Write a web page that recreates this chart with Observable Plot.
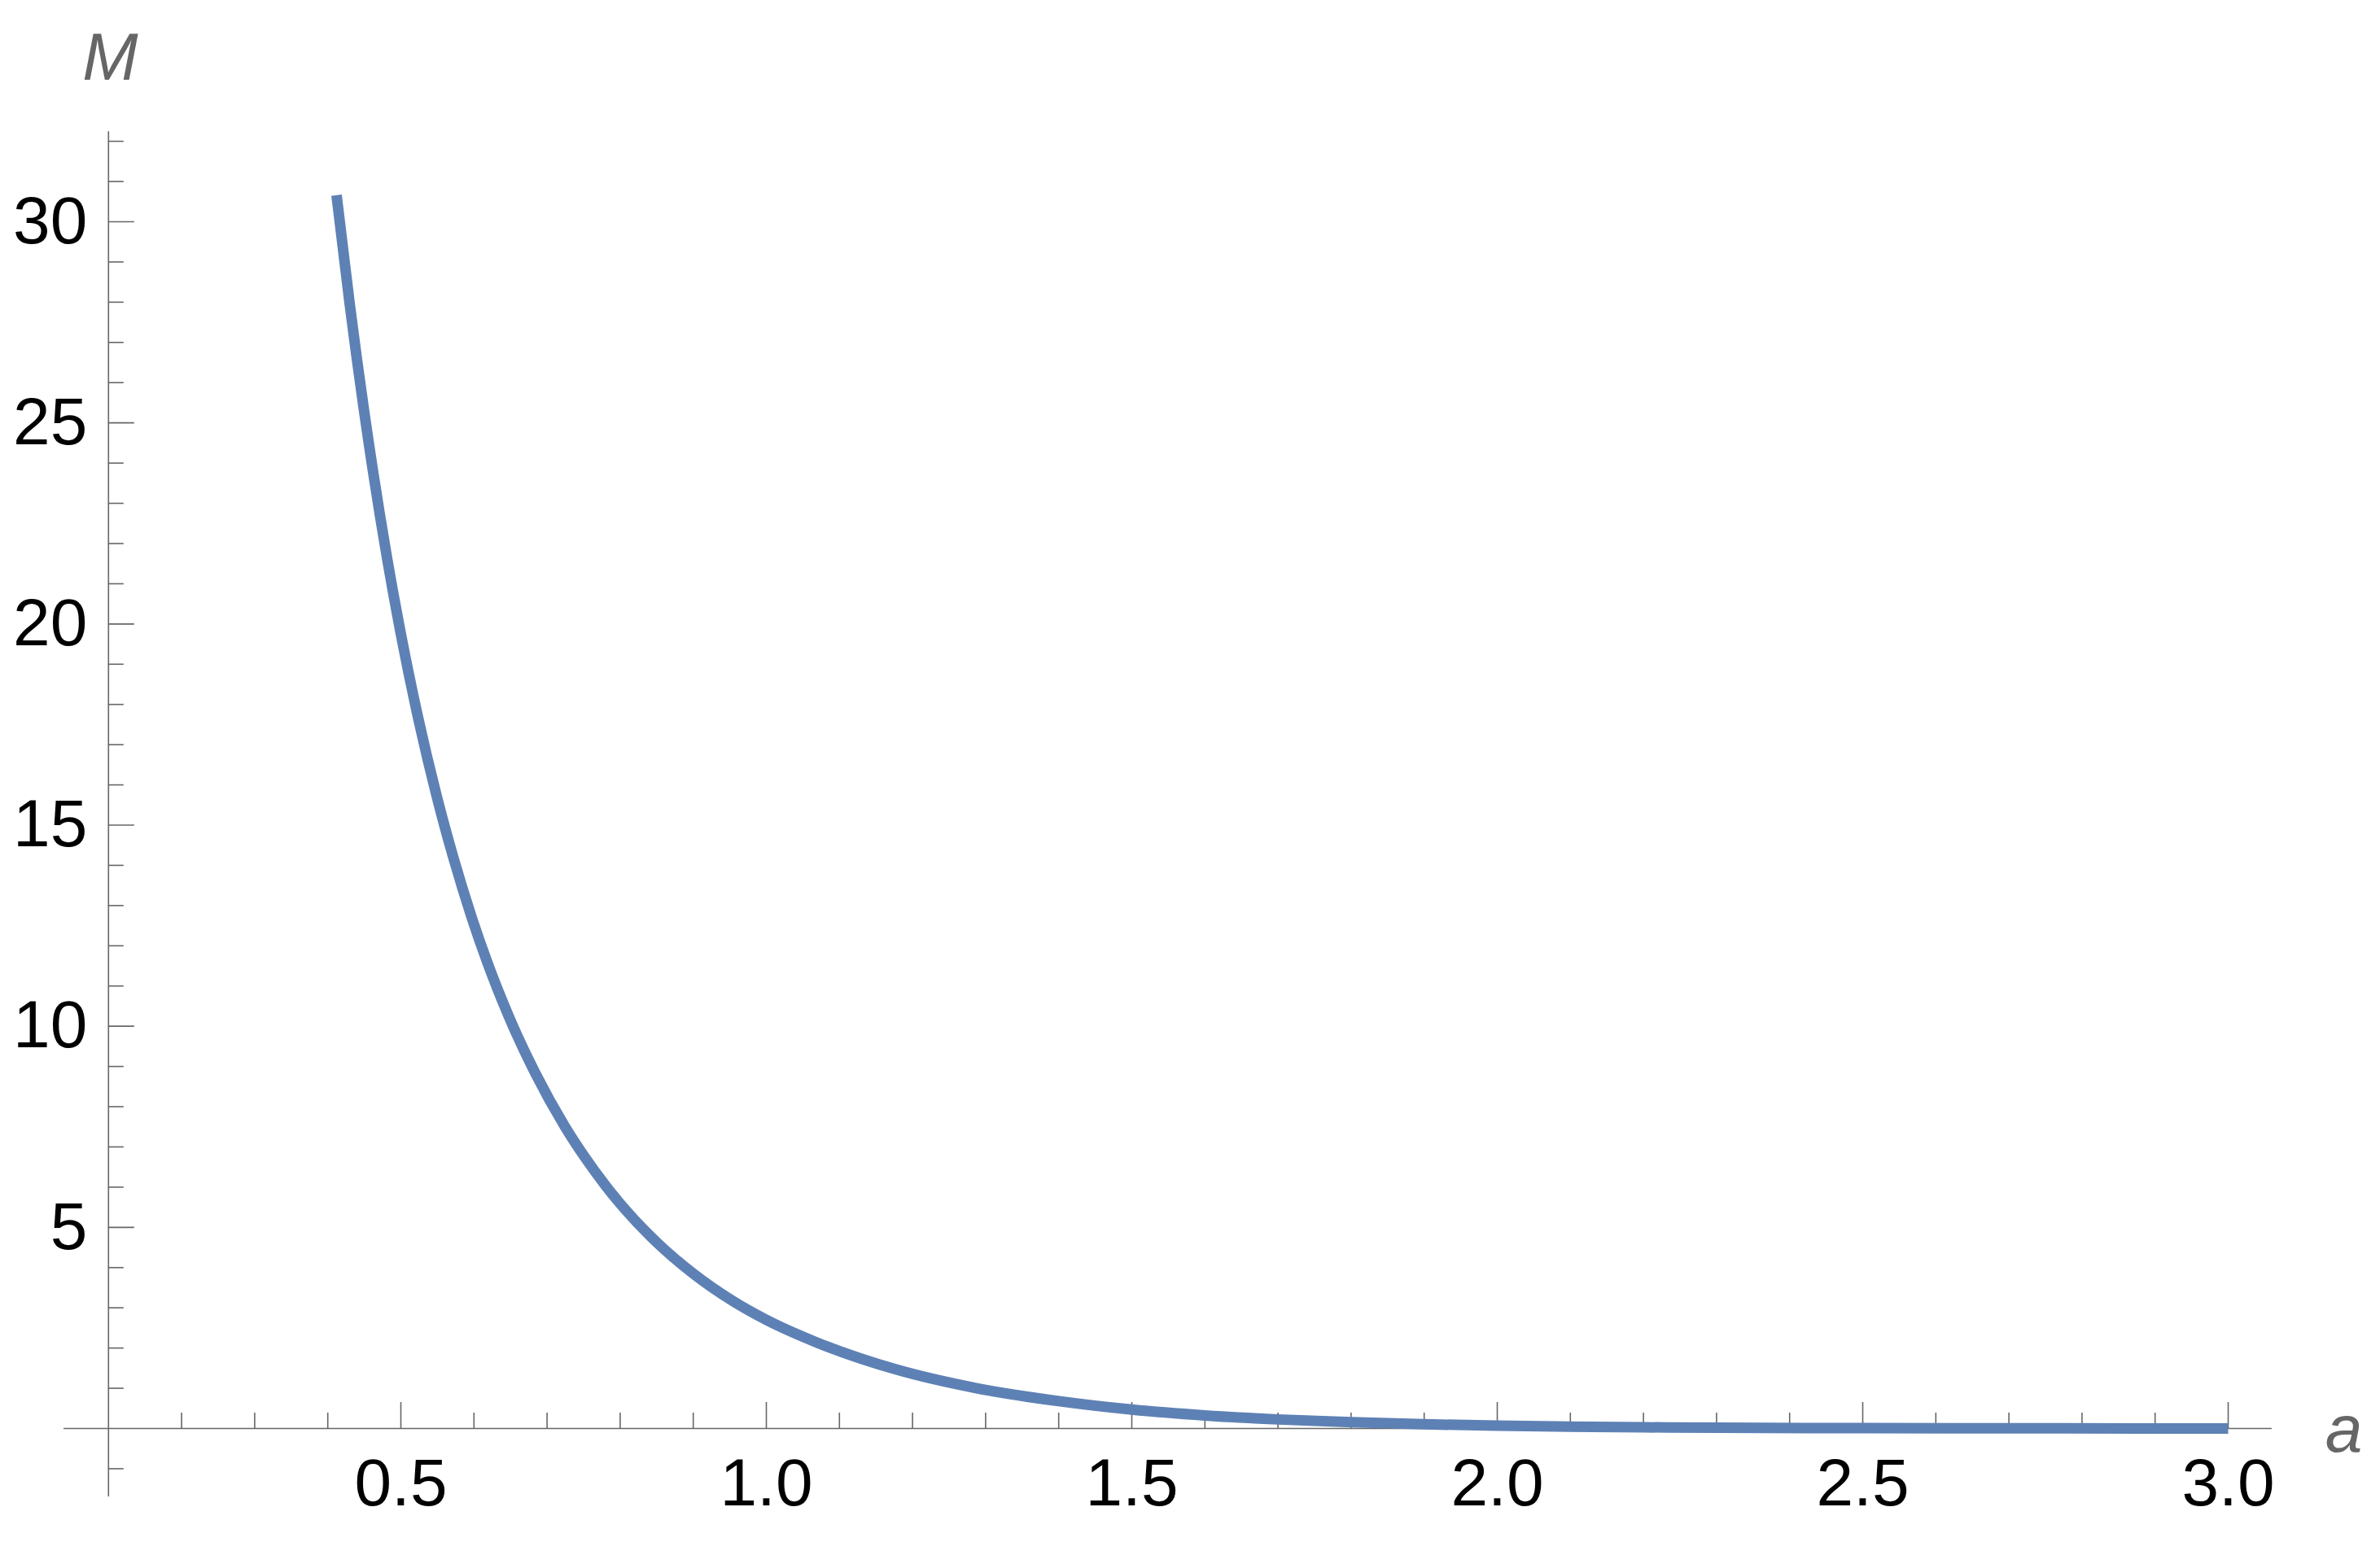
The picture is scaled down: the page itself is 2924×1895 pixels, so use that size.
<!DOCTYPE html>
<html>
<head>
<meta charset="utf-8">
<script src="https://cdn.jsdelivr.net/npm/d3@7"></script>
<script src="https://cdn.jsdelivr.net/npm/@observablehq/plot@0.6"></script>
<style>
  html, body { margin: 0; padding: 0; background: #fff; }
  #chart svg { display: block; }
</style>
</head>
<body>
<div id="chart"></div>
<script>
// ---- data ----
const aValues = [0.412, 0.430, 0.461, 0.481, 0.500, 0.522, 0.549, 0.572, 0.597, 0.618, 0.647, 0.684, 0.724, 0.750, 0.780, 0.800, 0.843, 0.900, 0.954, 1.000, 1.066, 1.177, 1.288, 1.400, 1.500, 1.600, 1.700, 1.800, 1.900, 2.000, 2.100, 2.200, 2.300, 2.500, 2.750, 3.000];
const mValues = [30.66, 27.95, 23.90, 21.65, 19.75, 17.80, 15.72, 14.18, 12.70, 11.60, 10.27, 8.83, 7.52, 6.79, 6.04, 5.59, 4.75, 3.85, 3.17, 2.70, 2.16, 1.47, 1.00, 0.68, 0.47, 0.325, 0.225, 0.157, 0.105, 0.071, 0.048, 0.030, 0.018, 0.008, 0.003, 0.001];

const xMajorTicks = [0.5, 1.0, 1.5, 2.0, 2.5, 3.0];
const xTickLabels = ["0.5", "1.0", "1.5", "2.0", "2.5", "3.0"];
const xMinorTicks = [0.2, 0.3, 0.4, 0.6, 0.7, 0.8, 0.9, 1.1, 1.2, 1.3, 1.4, 1.6, 1.7, 1.8, 1.9, 2.1, 2.2, 2.3, 2.4, 2.6, 2.7, 2.8, 2.9];
const yMajorTicks = [5, 10, 15, 20, 25, 30];
const yTickLabels = ["5", "10", "15", "20", "25", "30"];
const yMinorTicks = [-1, 1, 2, 3, 4, 6, 7, 8, 9, 11, 12, 13, 14, 16, 17, 18, 19, 21, 22, 23, 24, 26, 27, 28, 29, 31, 32];

const xAxisLabel = "a";
const yAxisLabel = "M";

// ---- layout ----
const W = 2924, H = 1895;
const xDomain = [0, 3], xRange = [43, 2737];
const yDomain = [0, 30], yRange = [1755, 272];
const axisCrossX = 0.1;           // where the vertical axis sits
const xAxisExtent = [0.039, 3.06];
const yAxisExtent = [-1.7, 32.24];
const pxPerX = (xRange[1] - xRange[0]) / (xDomain[1] - xDomain[0]);
const pxPerY = (yRange[0] - yRange[1]) / (yDomain[1] - yDomain[0]);
const majorLen = 32, minorLen = 19;

const axisColor = "#666666";
const curveColor = "#5E81B5";
const font = "'Liberation Sans', Arial, sans-serif";
const fs = 82;

const data = aValues.map((a, i) => ({a, M: mValues[i]}));
const xLab = xMajorTicks.map((v, i) => ({v, t: xTickLabels[i]}));
const yLab = yMajorTicks.map((v, i) => ({v, t: yTickLabels[i]}));

const chart = Plot.plot({
  width: W,
  height: H,
  style: {fontFamily: font, background: "#fff", overflow: "visible"},
  x: {domain: xDomain, range: xRange, axis: null},
  y: {domain: yDomain, range: yRange, axis: null},
  marks: [
    // axes lines
    Plot.ruleY([0], {x1: xAxisExtent[0], x2: xAxisExtent[1], stroke: axisColor, strokeWidth: 1.6}),
    Plot.ruleX([axisCrossX], {y1: yAxisExtent[0], y2: yAxisExtent[1], stroke: axisColor, strokeWidth: 1.6}),
    // x ticks
    Plot.ruleX(xMajorTicks, {x: d => d, y1: 0, y2: majorLen / pxPerY, stroke: axisColor, strokeWidth: 1.6}),
    Plot.ruleX(xMinorTicks, {x: d => d, y1: 0, y2: minorLen / pxPerY, stroke: axisColor, strokeWidth: 1.6}),
    // y ticks
    Plot.ruleY(yMajorTicks, {y: d => d, x1: axisCrossX, x2: axisCrossX + majorLen / pxPerX, stroke: axisColor, strokeWidth: 1.6}),
    Plot.ruleY(yMinorTicks, {y: d => d, x1: axisCrossX, x2: axisCrossX + minorLen / pxPerX, stroke: axisColor, strokeWidth: 1.6}),
    // tick labels
    Plot.text(xLab, {x: "v", y: 0, text: "t", dy: 68, lineAnchor: "middle", textAnchor: "middle", fontSize: fs, fill: "#000"}),
    Plot.text(yLab, {x: axisCrossX, y: "v", text: "t", dx: -26, lineAnchor: "middle", textAnchor: "end", fontSize: fs, fill: "#000"}),
    // axis labels
    Plot.text([xAxisLabel], {x: 3, y: 0, text: d => d, dx: 142, dy: 28, lineAnchor: "bottom", textAnchor: "middle", fontSize: fs, fontStyle: "italic", fill: axisColor}),
    Plot.text([yAxisLabel], {x: axisCrossX, y: 30, text: d => d, dx: 2, dy: -175, lineAnchor: "bottom", textAnchor: "middle", fontSize: fs, fontStyle: "italic", fill: axisColor}),
    // curve
    Plot.line(data, {x: "a", y: "M", curve: "monotone-x", stroke: curveColor, strokeWidth: 13, strokeLinecap: "butt", strokeLinejoin: "round"})
  ]
});
document.getElementById("chart").appendChild(chart);
</script>
</body>
</html>
